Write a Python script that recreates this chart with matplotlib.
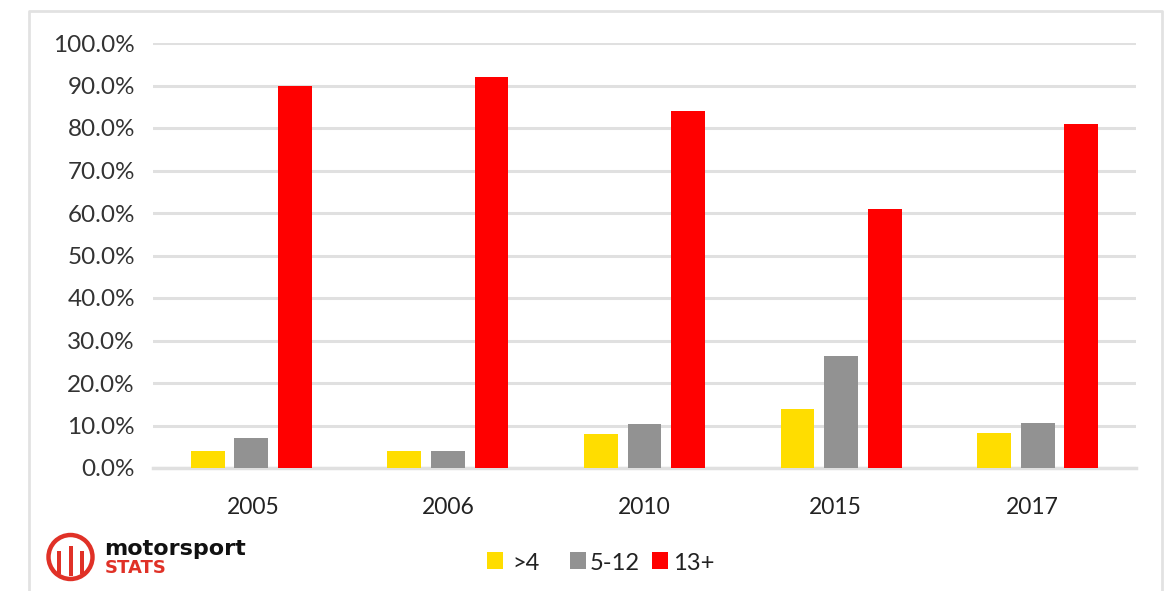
# share of points by finishing position band

import numpy as np
import matplotlib
matplotlib.use("Agg")
import matplotlib.pyplot as plt
from matplotlib.patches import Circle, Rectangle
from matplotlib.lines import Line2D
from matplotlib.transforms import ScaledTranslation

years = ["2005", "2006", "2010", "2015", "2017"]
under_4 = [4.0, 4.0, 8.0, 14.0, 8.3]
mid_5_12 = [7.0, 4.0, 10.3, 26.3, 10.7]
over_13 = [90.0, 92.0, 84.0, 61.0, 81.0]
y_ticks = [0, 10, 20, 30, 40, 50, 60, 70, 80, 90, 100]
legend_labels = [">4", "5-12", "13+"]

W, H = 1166, 591
plt.rcParams["font.family"] = ["Lato", "DejaVu Sans"]

fig = plt.figure(figsize=(W / 100, H / 100), dpi=100)
ax = fig.add_axes([153 / W, 1 - 468 / H, (1136 - 153) / W, (468 - 43) / H])

yellow, grey, bright_red = "#ffdd00", "#929292", "#ff0000"
x = np.arange(len(years))
bar_w = 0.172
gap = 0.222
ax.bar(x - gap, under_4, bar_w, color=yellow, zorder=3)
ax.bar(x, mid_5_12, bar_w, color=grey, zorder=3)
ax.bar(x + gap, over_13, bar_w, color=bright_red, zorder=3)

ax.set_xlim(-0.5, 4.5)
ax.set_ylim(0, 100)
ax.set_xticks(x, years)
ax.set_yticks(y_ticks, [f"{v:.1f}%" for v in y_ticks])
ax.grid(axis="y", color="#e0e0e0", linewidth=2.2, zorder=0)
ax.tick_params(length=0, labelcolor="#333333")
ax.tick_params(axis="x", pad=21, labelsize=16.5, labelcolor="#222222")
ax.tick_params(axis="y", pad=13, labelsize=17.5)
for name in ["top", "left", "right"]:
    ax.spines[name].set_visible(False)
ax.spines["bottom"].set_color("#e0e0e0")
ax.spines["bottom"].set_linewidth(2.5)

# the year labels sit a little off centre in the original
nudges = [2, 0, 0, -6, -5]
for lab, dx in zip(ax.get_xticklabels(), nudges):
    lab.set_transform(lab.get_transform() + ScaledTranslation(dx / 100, 0, fig.dpi_scale_trans))

# outer frame, open at the bottom
frame_x = [29 / W, 29 / W, 1162 / W, 1162 / W]
frame_y = [0, 1 - 11 / H, 1 - 11 / H, 0]
fig.add_artist(Line2D(frame_x, frame_y, color="#e2e2e2", linewidth=2))

# overlay in pixel coordinates for legend and logo
over = fig.add_axes([0, 0, 1, 1], facecolor="none")
over.set_xlim(0, W)
over.set_ylim(H, 0)
over.axis("off")

# legend, spacing is uneven in the original
swatch_x = [487, 570, 652]
text_x = [512, 590, 673]
for sx, tx, col, lab in zip(swatch_x, text_x, [yellow, grey, bright_red], legend_labels):
    over.add_patch(Rectangle((sx, 552), 16, 17, color=col, linewidth=0))
    over.text(tx, 564, lab, fontsize=17, color="#222222", va="center", ha="left")

# logo
red = "#e03127"
over.add_patch(Circle((70.5, 557), 22, fill=False, edgecolor=red, linewidth=3.2))
for bx, top, bottom in zip([59, 70.5, 82], [551, 546, 551], [574, 576, 574]):
    over.add_patch(Rectangle((bx - 2, top), 4, bottom - top, color=red, linewidth=0))
over.text(104, 549, "motorsport", fontsize=16, fontweight="bold", color="#111111",
          family="DejaVu Sans", va="center", ha="left")
over.text(105, 568, "STATS", fontsize=13, fontweight="bold", color=red,
          family="DejaVu Sans", va="center", ha="left")

fig.savefig("out.png", dpi=100)
